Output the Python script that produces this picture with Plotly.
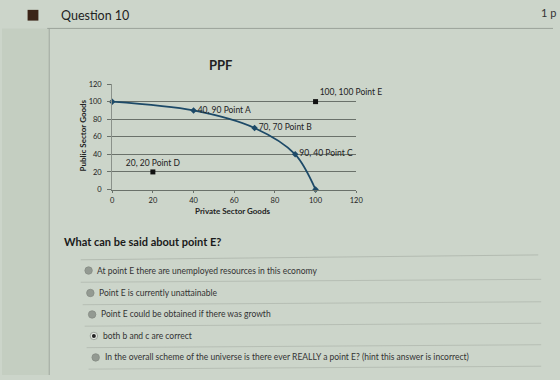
import plotly.graph_objects as go

# PPF data
ppf_x = [0, 40, 70, 90, 100]
ppf_y = [100, 90, 70, 40, 0]
ppf_labels = ["", "40, 90 Point A", "70, 70 Point B", "90, 40 Point C", ""]

other_x = [20, 100]
other_y = [20, 100]
other_labels = ["20, 20 Point D", "100, 100 Point E"]

x_ticks = [0, 20, 40, 60, 80, 100, 120]
y_ticks = [0, 20, 40, 60, 80, 100, 120]

question = "What can be said about point E?"
options = [
    "At point E there are unemployed resources in this economy",
    "Point E is currently unattainable",
    "Point E could be obtained if there was growth",
    "both b and c are correct",
    "In the overall scheme of the universe is there ever REALLY a point E? (hint this answer is incorrect)",
]
selected = 3

W, H = 560, 380
def px(x):
    return x / W
def py(y):
    return 1 - y / H

BG = "#ccd5ca"
FONT = "Lato"

fig = go.Figure()
fig.add_trace(go.Scatter(
    x=ppf_x, y=ppf_y, mode="lines+markers+text",
    line=dict(color="#1d4a68", width=1.8, shape="spline", smoothing=0.9),
    marker=dict(symbol="diamond", size=5, color="#1d4a68"),
    text=ppf_labels, textposition="middle right",
    textfont=dict(family=FONT, size=8.5, color="#222"),
    cliponaxis=False, showlegend=False,
))
fig.add_trace(go.Scatter(
    x=other_x, y=other_y, mode="markers+text",
    marker=dict(symbol="square", size=5, color="#111"),
    text=other_labels, textposition=["top center", "top right"],
    textfont=dict(family=FONT, size=8.5, color="#222"),
    cliponaxis=False, showlegend=False,
))

shapes = []
# left strip tint
shapes.append(dict(type="rect", xref="paper", yref="paper", x0=0, x1=px(48), y0=0, y1=py(25),
                   fillcolor="#c4cec1", line=dict(width=0), layer="below"))
# header line and left vertical line
shapes.append(dict(type="line", xref="paper", yref="paper", x0=px(46), x1=1, y0=py(25), y1=py(25),
                   line=dict(color="#9aa39a", width=1)))
shapes.append(dict(type="line", xref="paper", yref="paper", x0=px(48), x1=px(48), y0=py(25), y1=0,
                   line=dict(color="#a0a89f", width=1)))
# question marker
shapes.append(dict(type="rect", xref="paper", yref="paper", x0=px(26), x1=px(37), y0=py(17), y1=py(6),
                   fillcolor="#3b2417", line=dict(width=0)))
# separator under question
shapes.append(dict(type="line", xref="paper", yref="paper", x0=px(80), x1=px(545), y0=py(262), y1=py(257),
                   line=dict(color="#b3bbb1", width=1)))

annotations = [
    dict(text="Question 10", x=px(58), y=py(12), xref="paper", yref="paper", xanchor="left", yanchor="middle",
         showarrow=False, font=dict(family=FONT, size=12.5, color="#222")),
    dict(text="1 p", x=px(546), y=py(9), xref="paper", yref="paper", xanchor="left", yanchor="middle",
         showarrow=False, font=dict(family=FONT, size=11, color="#333")),
    dict(text="<b>PPF</b>", x=px(222), y=py(62), xref="paper", yref="paper", xanchor="center", yanchor="middle",
         showarrow=False, font=dict(family=FONT, size=13, color="#222")),
    dict(text="<b>Public Sector Goods</b>", x=px(82), y=py(135), xref="paper", yref="paper", textangle=-90,
         xanchor="center", yanchor="middle", showarrow=False, font=dict(family=FONT, size=8, color="#222")),
    dict(text="<b>Private Sector Goods</b>", x=px(234), y=py(212), xref="paper", yref="paper",
         xanchor="center", yanchor="middle", showarrow=False, font=dict(family=FONT, size=8, color="#222")),
    dict(text="<b>" + question + "</b>", x=px(61), y=py(243), xref="paper", yref="paper", xanchor="left",
         yanchor="middle", showarrow=False, font=dict(family=FONT, size=11, color="#1a1a1a")),
]

opt_y = [273, 296, 318, 340, 362]
for i, (t, yy) in enumerate(zip(options, opt_y)):
    cx = 88 + i * 1.8
    r = 3.8
    if i == selected:
        shapes.append(dict(type="circle", xref="paper", yref="paper",
                           x0=px(cx - r), x1=px(cx + r), y0=py(yy + r), y1=py(yy - r),
                           fillcolor="#e4e8e2", line=dict(color="#8e968d", width=0.8)))
        shapes.append(dict(type="circle", xref="paper", yref="paper",
                           x0=px(cx - 2), x1=px(cx + 2), y0=py(yy + 2), y1=py(yy - 2),
                           fillcolor="#222", line=dict(width=0)))
    else:
        shapes.append(dict(type="circle", xref="paper", yref="paper",
                           x0=px(cx - r), x1=px(cx + r), y0=py(yy + r), y1=py(yy - r),
                           fillcolor="#939a92", line=dict(color="#858c84", width=0.8)))
    annotations.append(dict(text=t, x=px(cx + 7), y=py(yy), xref="paper", yref="paper", xanchor="left",
                            yanchor="middle", showarrow=False, font=dict(family=FONT, size=8.5, color="#333")))
    ly = yy + 11
    shapes.append(dict(type="line", xref="paper", yref="paper", x0=px(80 + i * 2), x1=px(548),
                       y0=py(ly + 1), y1=py(ly - 2), line=dict(color="#b6beb4", width=1)))

fig.update_layout(
    width=W, height=H, margin=dict(l=0, r=0, t=0, b=0),
    paper_bgcolor=BG, plot_bgcolor=BG,
    shapes=shapes, annotations=annotations,
    xaxis=dict(domain=[px(112), px(360)], range=[0, 120], tickvals=x_ticks,
               showgrid=False, zeroline=False, showline=True, linecolor="#6a716a", linewidth=1,
               ticks="outside", ticklen=2, tickcolor="#6a716a", ticklabelstandoff=1,
               tickfont=dict(family=FONT, size=7.5, color="#222"), anchor="y"),
    yaxis=dict(domain=[py(190), py(82)], range=[0, 120], tickvals=y_ticks,
               showgrid=True, gridcolor="#6a716a", gridwidth=0.8, zeroline=False,
               showline=True, linecolor="#8a918a", linewidth=1,
               ticks="outside", ticklen=4, tickcolor="#6a716a", ticklabelstandoff=4,
               tickfont=dict(family=FONT, size=7.5, color="#222"), anchor="x"),
)

fig.write_html("out.html")
